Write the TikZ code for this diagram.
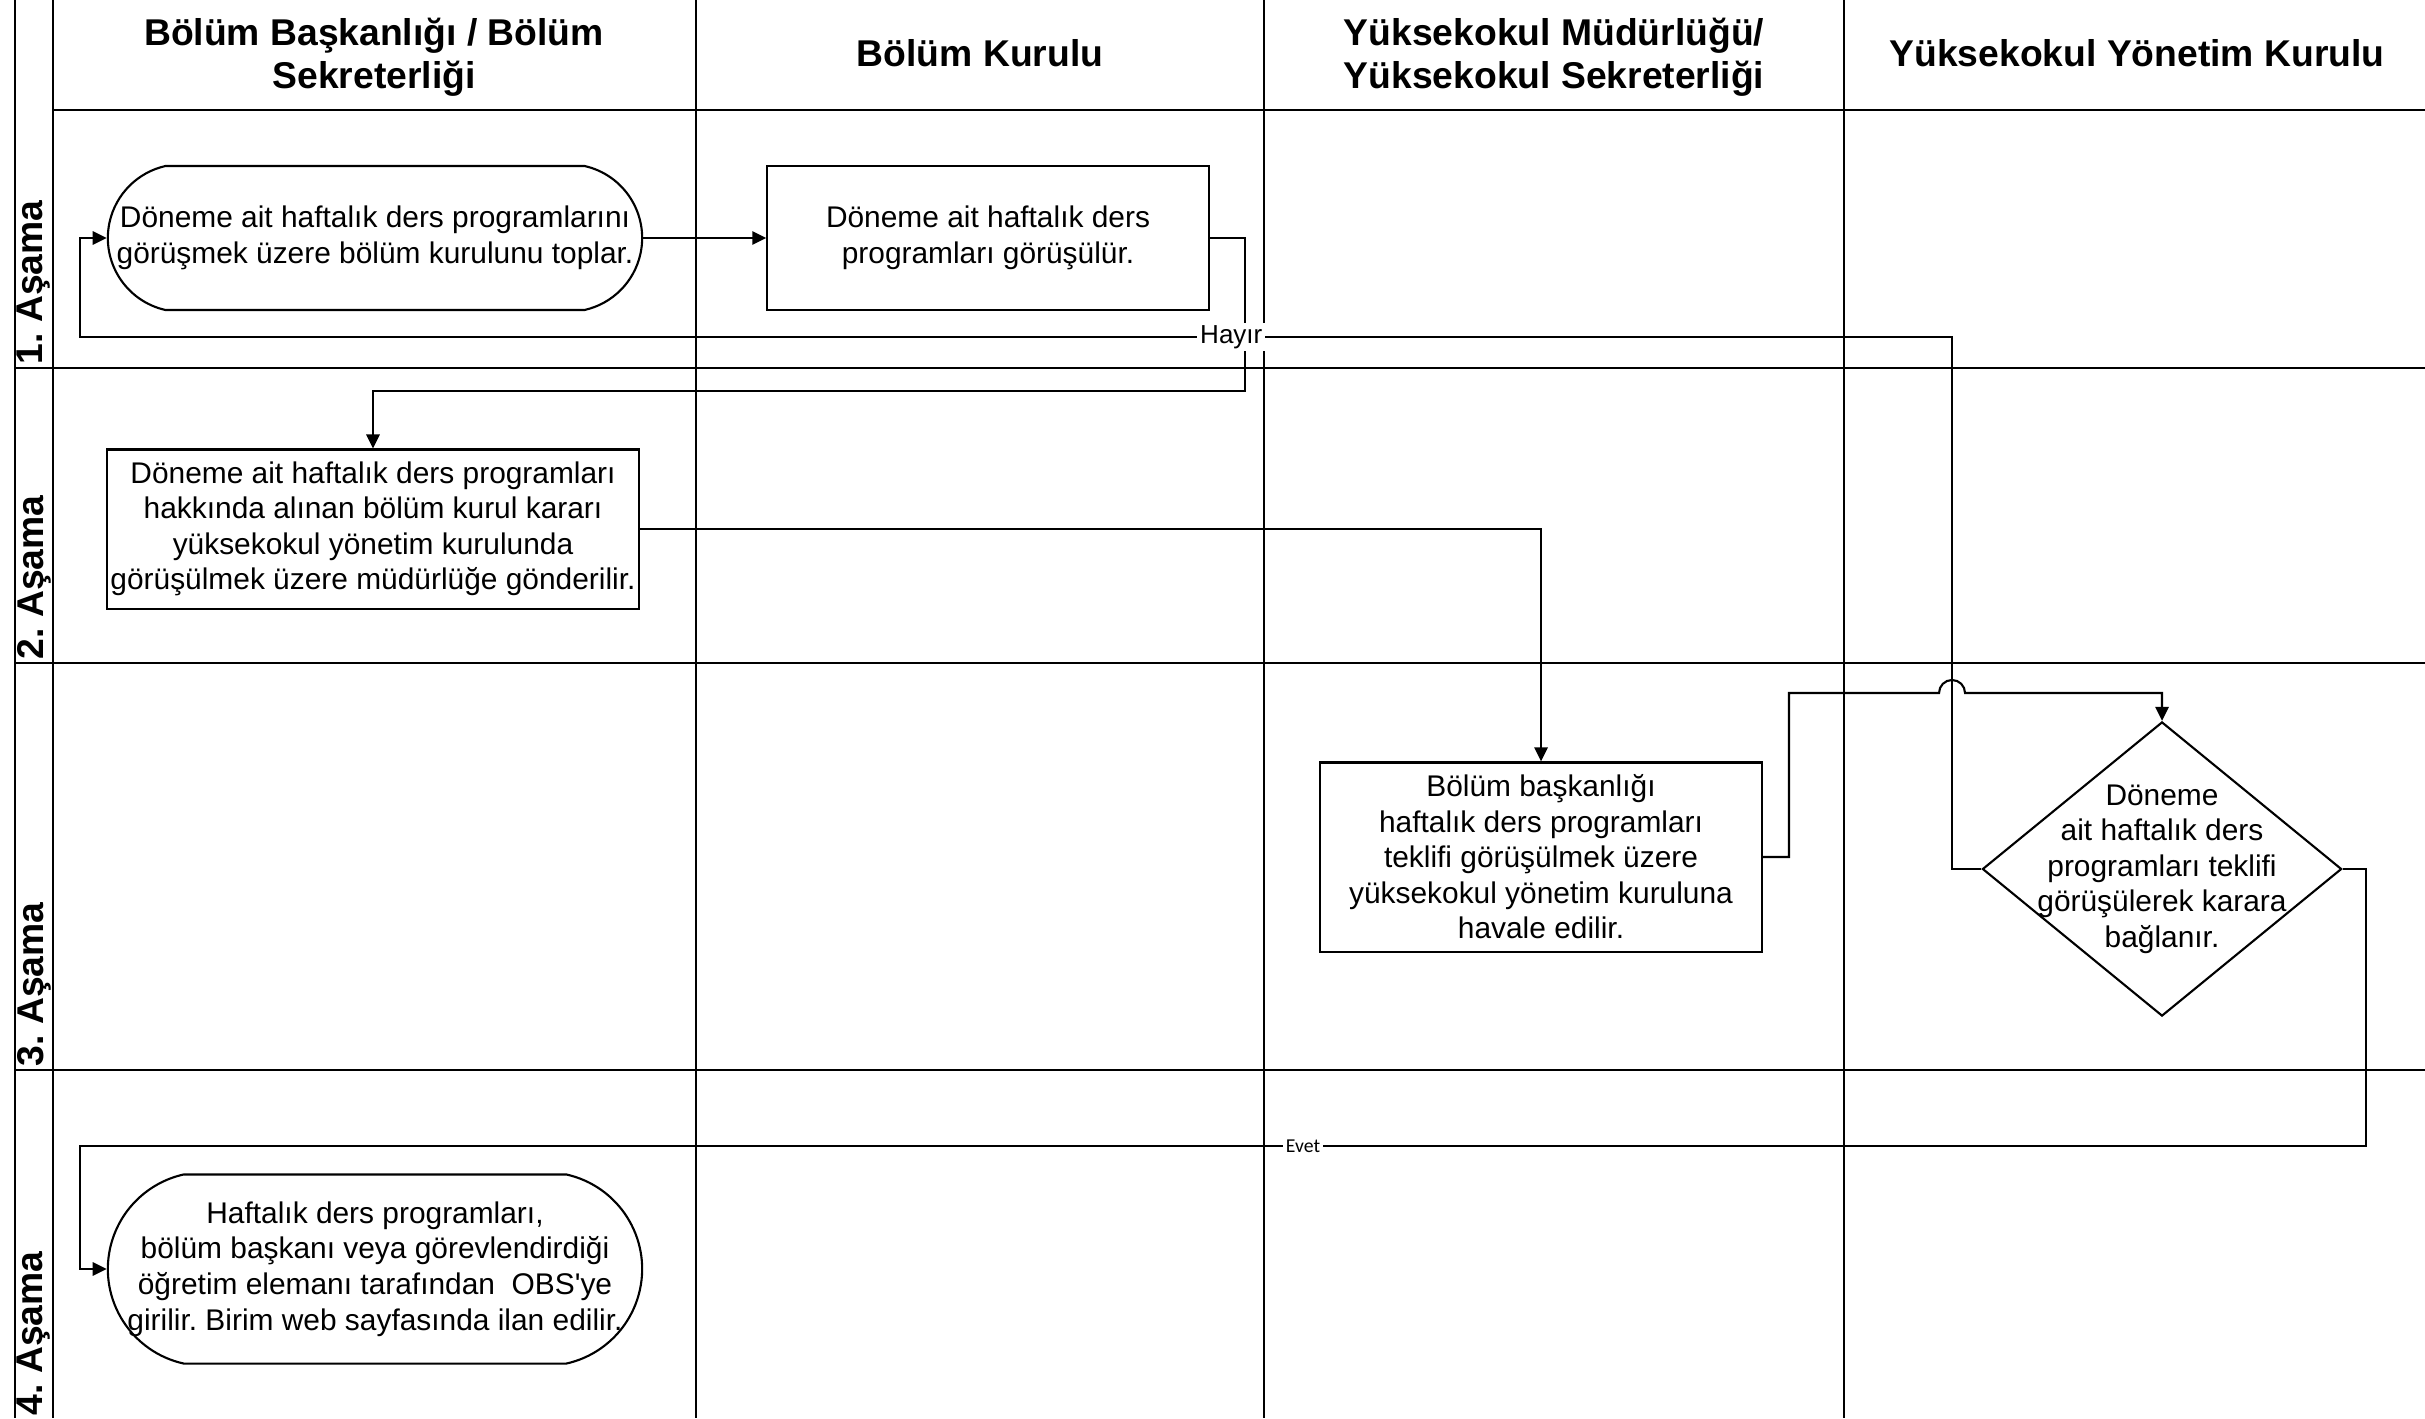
\documentclass[tikz,border=0pt]{standalone}
\usepackage{fontspec}
\setmainfont{Liberation Sans}[Ligatures=TeXOff]
\newfontfamily\evetfont{Carlito}
\usetikzlibrary{shapes.geometric,shapes.misc,arrows.meta,calc}
\frenchspacing
\begin{document}
\frenchspacing
\begin{tikzpicture}[x=0.01cm,y=-0.01cm,
  frame/.style={line width=0.8pt},
  conn/.style={line width=0.6pt},
  arr/.style={conn,-{Triangle[length=4pt,width=3.8pt]}},
  txt/.style={font=\fontsize{8.5}{10.1}\selectfont, align=center},
  procbox/.style={draw, line width=0.6pt, rectangle, txt, inner sep=0pt},
  termbox/.style={draw, line width=0.6pt, rounded rectangle, rounded rectangle arc length=155, txt, inner sep=0pt},
  decbox/.style={draw, line width=0.6pt, diamond, inner sep=0pt},
  hdr/.style={font=\fontsize{10.6}{12.3}\selectfont\bfseries, align=center},
  stage/.style={font=\fontsize{10.6}{12}\selectfont\bfseries, rotate=90, anchor=west, inner sep=0pt},
  lab/.style={fill=white, inner sep=0.8pt, font=\fontsize{7.4}{8}\selectfont},
  evlab/.style={fill=white, inner sep=0.8pt, font=\evetfont\fontsize{5.6}{6}\selectfont}]
\useasboundingbox (0,0) rectangle (2425,1418);

% frame
\draw[frame] (15,0) -- (15,1418);
\draw[frame] (53,0) -- (53,1418);
\draw[frame] (53,110) -- (2425,110);
\foreach \xx in {696,1264,1844} \draw[frame] (\xx,0) -- (\xx,1418);
\foreach \yy in {368,663,1070} \draw[frame] (15,\yy) -- (2425,\yy);

% headers
\node[hdr] (h1) at (374,57) {Bölüm Başkanlığı / Bölüm\\Sekreterliği};
\node[hdr] (h2) at (980,53) {Bölüm Kurulu};
\node[hdr] (h3) at (1554,57) {Yüksekokul Müdürlüğü/\\Yüksekokul Sekreterliği};
\node[hdr] (h4) at (2137,53) {Yüksekokul Yönetim Kurulu};

% stages
\node[stage] (s1) at (34,365) {1. Aşama};
\node[stage] (s2) at (34,660) {2. Aşama};
\node[stage] (s3) at (34,1067) {3. Aşama};
\node[stage] (s4) at (34,1416) {4. Aşama};

% nodes
\node[termbox, minimum width=5.34cm, minimum height=1.44cm] (t1) at (375,238)
  {Döneme ait haftalık ders programlarını\\görüşmek üzere bölüm kurulunu toplar.};
\node[procbox, minimum width=4.41cm, minimum height=1.44cm] (b2) at (988,238)
  {Döneme ait haftalık ders\\programları görüşülür.};
\node[procbox, minimum width=5.31cm, minimum height=1.59cm] (b3) at (373,529)
  {Döneme ait haftalık ders programları\\hakkında alınan bölüm kurul kararı\\yüksekokul yönetim kurulunda\\görüşülmek üzere müdürlüğe gönderilir.};
\node[procbox, minimum width=4.41cm, minimum height=1.89cm] (b4) at (1541,857)
  {Bölüm başkanlığı\\haftalık ders programları\\teklifi görüşülmek üzere\\yüksekokul yönetim kuruluna\\havale edilir.};
\node[decbox, minimum width=3.59cm, minimum height=2.94cm,
  label={[txt]center:{Döneme\\ait haftalık ders\\programları teklifi\\görüşülerek karara\\bağlanır.}}] (d5) at (2162,869) {};
\node[termbox, minimum width=5.34cm, minimum height=1.89cm,
  label={[txt]center:{Haftalık ders programları,\\bölüm başkanı veya görevlendirdiği\\öğretim elemanı tarafından~ OBS'ye\\girilir. Birim web sayfasında ilan edilir.}}] (t6) at (375,1269) {};

% connectors
\coordinate (cb) at (1245,391);
\coordinate (cd) at (1789,693);
\coordinate (cj) at (1939,693);
\coordinate (ce1) at (1952,337);
\coordinate (ce2) at (80,337);
\coordinate (cf1) at (2366,1146);
\coordinate (cf2) at (80,1146);

\draw[arr] (t1.east) -- (b2.west);
\draw[arr] (b2.east) -| (cb) -| (b3.north);
\draw[arr] (b3.east) -| (b4.north);
\draw[arr] (b4.east) -| (cd) -- (cj) arc[start angle=180, end angle=0, radius=0.13cm] -| (d5.north);
\draw[arr] (d5.west) -| (ce1) -- node[lab, pos=0.385] {Hayır} (ce2) |- (t1.west);
\draw[arr] (d5.east) -| (cf1) -- node[evlab, pos=0.465] {Evet} (cf2) |- (t6.west);
\end{tikzpicture}
\end{document}
